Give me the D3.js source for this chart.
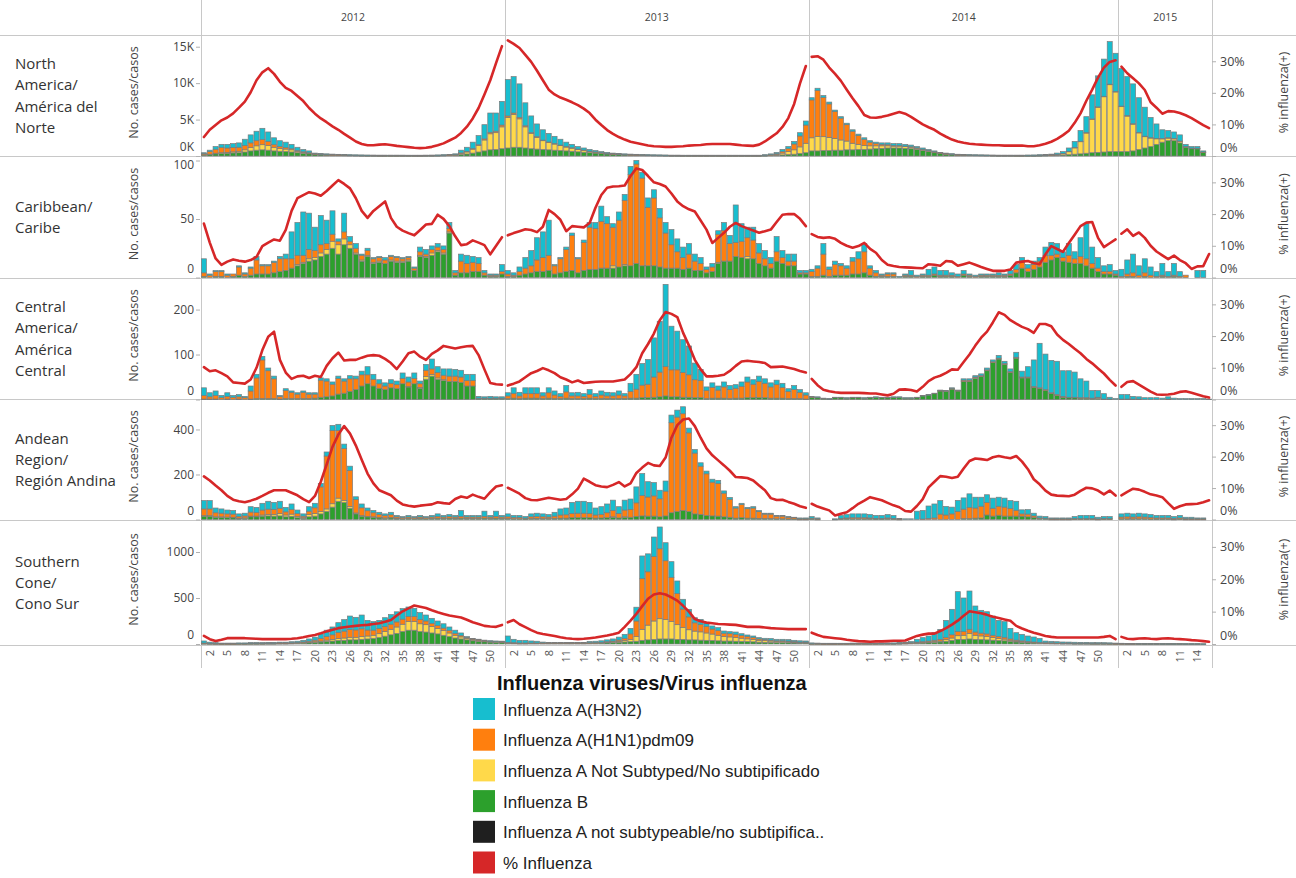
<!DOCTYPE html>
<html><head><meta charset="utf-8">
<script src="https://cdn.jsdelivr.net/npm/d3@7"></script>
<style>
body{margin:0;background:#fff}
svg{display:block}
</style>
</head><body>
<svg id="chart" width="1296" height="878"></svg>
<script>
// ---------------- DATA ----------------
const YEARS = [2012, 2013, 2014, 2015];
const WEEKS_PER_YEAR = [52, 52, 53, 16];
const X_TICK_WEEKS = [2,5,8,11,14,17,20,23,26,29,32,35,38,41,44,47,50];
const X_TICK_WEEKS_2015 = [2,5,8,11,14];

const REGION_LABELS = [
  ["North","America/","América del","Norte"],
  ["Caribbean/","Caribe"],
  ["Central","America/","América","Central"],
  ["Andean","Region/","Región Andina"],
  ["Southern","Cone/","Cono Sur"]
];

const SERIES_NAMES = ["Influenza A(H3N2)","Influenza A(H1N1)pdm09","Influenza A Not Subtyped/No subtipificado","Influenza B","Influenza A not subtypeable/no subtipifica..","% Influenza"];
const SERIES_COLORS = ["#17becf","#ff7f0e","#ffd94a","#2ca02c","#1f1f1f","#d62728"];
const LEGEND_TITLE = "Influenza viruses/Virus influenza";

const NA_TICKS = [0,5000,10000,15000];
const CAR_TICKS = [0,50,100];
const CA_TICKS = [0,100,200];
const AND_TICKS = [0,200,400];
const SC_TICKS = [0,500,1000];
const PCT_TICKS = [0,10,20,30];

// North America
const NA_B = [
150,200,300,350,380,420,450,550,700,800,850,800,700,650,600,550,450,350,300,200,170,150,130,110,100,90,80,70,60,60,50,50,50,50,50,50,50,50,60,60,70,80,100,130,200,280,400,550,700,850,900,1000,
1100,1200,1200,1100,1000,950,900,850,800,750,700,650,580,520,450,400,330,280,230,200,170,150,130,110,100,90,80,70,60,60,50,50,50,50,50,50,50,50,50,50,50,50,50,50,60,80,100,150,200,250,350,450,
700,700,750,750,800,800,850,850,900,900,950,1000,1050,1100,1100,1100,1050,1000,900,750,600,450,330,250,200,150,130,110,100,90,80,70,60,60,60,50,50,50,50,60,70,80,100,130,180,250,300,380,450,500,550,600,600,
600,600,700,900,1100,1300,1600,1900,2100,2100,1800,1200,1000,1000,500,0];
const NA_NS = [
30,50,80,100,120,150,200,300,450,600,700,650,500,400,350,300,200,150,100,60,50,40,30,30,20,20,20,20,20,20,20,20,20,20,20,20,20,20,20,20,20,30,40,60,200,300,550,900,1500,2200,2300,3000,
4200,4500,3900,2900,2100,1600,1200,1000,850,700,550,450,350,280,200,150,110,80,60,50,40,30,30,20,20,20,20,20,20,20,20,20,20,20,20,20,20,20,20,20,20,20,20,20,40,70,130,250,400,600,900,1300,
1800,2000,1900,1800,1600,1400,1200,900,700,550,450,400,350,300,250,250,250,220,180,150,120,100,70,50,40,30,30,20,20,20,20,20,20,20,20,20,20,30,30,40,50,70,120,220,450,900,1700,2800,4600,6200,7600,9200,8200,
6200,4900,3700,2300,1600,1200,800,500,400,300,250,100,80,60,40,0];
const NA_H1 = [
150,350,550,700,600,600,550,600,650,700,700,550,350,250,200,150,100,80,50,30,30,20,20,20,20,10,10,10,10,10,10,10,10,10,10,10,10,10,10,10,10,10,10,10,30,40,60,100,150,200,200,250,
200,200,200,150,100,100,80,70,60,50,40,30,20,20,20,10,10,10,10,10,10,10,10,10,10,10,10,10,10,10,10,10,10,10,10,10,10,10,10,10,10,10,10,10,20,40,80,200,400,800,1500,2500,
5200,6300,5400,4600,3700,3000,2250,1650,1200,850,500,300,200,150,100,80,60,50,40,30,30,20,20,20,10,10,10,10,10,10,10,10,10,10,10,10,10,10,10,10,10,10,10,10,20,20,30,30,40,50,50,60,60,
50,40,30,30,20,20,20,10,10,10,10,10,10,10,10,0];
const NA_H3 = [
120,200,370,450,500,530,600,850,1100,1300,1550,1300,950,800,750,600,450,320,250,110,100,90,80,70,60,60,50,50,50,40,40,40,40,40,40,30,30,30,30,40,50,60,70,100,370,580,890,1250,1950,2650,2500,3250,
5000,5000,4600,3150,2300,1750,1420,1180,990,800,610,470,350,280,230,190,150,130,100,90,80,70,60,50,50,40,40,40,30,30,30,30,30,30,30,30,30,30,30,30,30,30,30,30,60,100,180,300,300,350,450,550,
300,300,250,250,200,200,200,200,200,200,200,200,200,250,250,270,240,230,180,170,150,130,80,80,70,50,40,40,30,30,30,30,30,30,30,40,40,50,60,70,80,100,170,240,450,830,1470,2190,3310,4250,5100,5840,5240,
5150,5360,5470,4770,3980,2780,1980,1190,990,890,840,290,210,230,150,0];
const NA_PCT = [
6.0,8.3,9.8,11.3,12.2,13.5,15.3,17.2,20.2,24,26.5,27.8,26,23.5,21.6,20.6,19,17.4,15.2,13.4,11.9,10.7,9.4,8.3,7,5.8,4.6,3.8,3.4,3.4,3.6,3.7,3.5,3.2,3.0,2.8,2.6,2.5,2.6,2.9,3.4,4.0,4.9,5.8,7.3,9.3,11.9,15.2,19.5,24,29.5,34.8,
36.6,35.5,34.2,32,29.8,27,24,21,19.5,18.5,17.8,17,16.1,15,13.6,11.5,9.8,8.2,7,6,5.2,4.5,4.1,3.7,3.3,3.1,3.0,2.9,2.9,3.0,3.1,3.3,3.4,3.5,3.7,3.8,3.8,3.8,3.8,3.6,3.4,3.3,3.2,3.6,4.6,5.9,7.2,9.2,12,16.5,23,28.5,
31.4,31.6,30.5,28,26,23.8,21,18.3,15.8,13,12.2,12.1,12.4,12.8,13.4,13.9,13.4,12.4,11.2,10,9.1,8.3,7.1,6.1,5.2,4.6,4.2,3.9,3.7,3.6,3.5,3.4,3.4,3.3,3.3,3.3,3.3,3.1,3.1,3.4,3.9,4.5,5.4,6.6,8,10.5,13.5,17.5,21,24.8,28,29.8,30.3,
28.3,26.2,24.6,23,20.9,17,15.3,13.4,14.2,14.1,13.6,12.9,12,10.9,9.8,8.8];

// Caribbean
const CAR_B = [
1,0,1,1,0,1,2,1,2,3,3,3,4,5,6,8,10,12,14,15,18,20,25,20,28,25,20,14,18,12,13,12,14,13,13,14,6,18,17,19,22,20,38,2,4,4,5,5,2,1,1,3,
1,1,2,3,4,5,5,6,3,4,5,6,4,6,7,7,8,8,8,9,10,10,12,10,10,10,9,8,8,8,7,8,6,6,4,5,12,14,14,18,17,16,16,12,10,8,14,12,10,10,3,3,
1,1,2,1,2,2,2,3,3,4,2,1,1,1,1,0,1,1,0,1,1,2,1,1,1,0,2,1,0,1,1,1,1,1,2,4,8,5,7,9,13,15,17,14,13,12,12,10,8,5,3,3,2,
0,1,1,0,1,0,0,1,0,1,0,0,0,0,0,0];
const CAR_NS = [
0,0,0,0,0,0,0,0,0,0,0,0,0,0,0,0,1,1,2,2,3,4,6,8,5,3,1,1,1,1,1,0,1,1,1,1,0,1,1,2,1,1,1,0,0,0,0,0,0,0,0,0,
0,0,0,0,0,0,0,0,0,0,0,0,0,0,0,0,0,0,2,0,1,0,0,0,0,0,0,0,0,0,0,0,0,0,0,0,1,0,0,0,0,2,0,0,0,0,0,0,0,0,0,0,
0,0,0,0,0,0,0,0,0,0,0,0,0,0,0,0,0,0,0,0,0,0,0,0,0,0,0,0,0,0,0,0,0,0,0,0,0,0,0,0,0,0,0,0,0,0,0,0,0,0,0,0,0,
0,0,0,0,0,0,0,0,0,0,0,0,0,0,0,0];
const CAR_H1 = [
3,2,4,4,2,2,7,2,6,12,7,7,9,11,10,8,8,6,8,6,7,5,6,3,6,3,4,4,4,3,3,3,3,3,2,2,2,3,2,3,3,3,3,2,10,8,8,7,2,1,1,2,
2,1,3,5,6,10,12,13,7,12,19,30,12,24,36,35,40,38,33,40,55,78,85,75,50,58,42,30,20,14,10,12,8,6,3,4,24,26,15,12,14,16,16,9,6,4,8,5,4,4,1,1,
4,7,18,6,9,8,6,11,13,18,6,3,1,2,2,0,1,1,1,1,1,1,1,1,1,1,1,1,1,1,1,1,1,1,1,3,5,3,4,5,6,4,3,3,6,4,6,6,4,3,2,2,1,
1,2,3,2,3,2,1,1,1,1,1,2,0,0,0,0];
const CAR_H3 = [
12,1,1,1,1,0,1,1,1,3,1,1,1,2,4,23,28,37,31,20,25,20,20,2,16,4,4,1,2,1,1,2,1,1,1,1,1,4,4,3,3,3,5,2,6,7,5,5,2,1,1,6,
3,2,4,9,13,19,22,30,1,1,2,2,1,2,4,5,13,6,3,7,5,7,3,5,8,7,8,9,13,11,9,9,6,5,2,3,3,7,7,32,15,9,11,8,7,5,13,6,6,6,2,2,
2,2,9,2,3,2,2,3,6,7,2,2,1,1,1,1,1,4,1,1,5,6,4,4,2,2,3,1,1,1,1,1,2,1,3,4,4,3,3,3,7,11,9,5,10,6,16,30,14,9,5,6,3,
6,12,16,8,12,7,4,10,4,10,4,0,0,6,6,0];
const CAR_PCT = [
17,11,6,4,5,5.7,5.3,5,5.5,6.5,9.9,11,12,11.6,15,21,25,26,26.9,26.5,25.8,27.3,29,30.7,29.5,28.1,25,21,18.8,21,22.5,24,18.8,16,14.8,14,13.3,15,16.7,16.9,19.8,18.5,16.2,13,10.2,10.5,11.7,11,10.2,7.3,10,12.7,
13.3,14,14.6,15.2,15,14.3,16,21.3,20,18.2,14.6,16.2,16,15.8,17.2,22,26,28.3,28.7,28.8,29,32,34.4,33.9,32,30,29.5,28.7,26.5,24,22.5,21.5,20.8,18,15.1,10.9,12.5,14.1,16,17.2,16.2,15.5,14.8,14.1,14.6,15.1,17.5,19.8,20,20,18.5,16.2,
13.7,12.8,12.5,12.7,12.2,10.9,10,9.4,9.9,10.9,9,7.8,5.5,4,3.6,3.3,3.2,3.1,3,2.9,4.2,4,3.7,5.2,5,3.7,4.2,4.7,4,3.3,2.7,2.1,2.1,2.1,2.5,4.7,5,5.2,4.6,4.2,7.3,9.9,9,8.1,10.9,13.5,16.2,17.3,17.5,12.5,9.6,10.8,12,
13.8,15.2,13.1,14.2,12.5,10,8.2,7,5.8,6.9,5.5,4.5,2.7,3.5,3.6,7.4];

// Central America
const CA_B = [
1,1,1,0,1,0,1,0,1,2,2,2,2,1,2,2,2,2,2,3,5,6,8,12,14,18,22,30,35,30,25,22,26,24,35,28,35,25,45,52,45,42,40,40,38,30,30,2,2,2,2,2,
2,3,2,3,3,3,2,3,2,2,3,2,2,2,3,2,2,2,2,2,2,3,3,4,4,5,6,8,6,6,5,5,4,4,2,3,3,3,2,3,3,4,4,4,4,3,3,3,2,2,2,1,
5,4,2,1,4,4,3,4,4,3,4,5,4,4,5,5,3,3,4,8,10,13,19,18,23,19,40,40,47,51,64,82,90,78,60,92,48,48,27,24,20,13,9,5,4,4,3,3,2,2,1,1,0,
1,1,1,1,0,0,0,0,1,0,0,0,0,0,0,0];
const CA_NS = [
0,0,0,0,0,0,0,0,0,0,0,0,0,0,0,0,0,0,0,0,0,0,0,0,0,0,0,0,0,0,0,0,0,0,0,1,0,2,6,4,3,2,0,0,0,0,0,0,0,0,0,0,
0,0,0,0,0,0,0,0,0,0,0,0,0,0,0,0,0,0,0,0,0,0,0,0,0,0,0,0,0,0,0,0,0,0,0,0,0,0,0,0,0,0,0,0,0,0,0,0,0,0,0,0,
0,0,0,0,0,0,0,0,0,0,0,0,0,0,0,0,0,0,0,0,0,0,0,0,0,0,0,0,1,0,0,0,0,0,0,0,0,0,0,0,0,0,0,0,0,0,0,0,0,2,0,0,0,
0,0,0,0,0,0,0,0,0,0,0,0,0,0,0,0];
const CA_H1 = [
8,5,8,4,6,5,5,4,18,46,86,62,44,6,18,14,10,14,10,9,38,35,26,35,27,28,24,25,20,15,10,8,10,9,12,10,12,8,14,12,12,10,12,12,12,12,12,1,1,1,1,1,
6,10,6,10,10,10,6,12,8,5,14,6,6,5,8,5,8,6,6,8,6,15,20,28,30,45,55,65,60,60,55,50,40,38,18,24,18,25,20,22,26,35,30,36,32,25,30,24,16,20,14,9,
1,1,0,0,0,0,0,0,0,0,0,0,0,0,0,0,0,0,0,0,0,0,1,1,2,1,3,3,2,2,2,2,2,2,2,2,2,2,2,2,2,2,2,2,1,1,1,1,1,1,0,0,0,
0,0,0,0,0,0,0,0,0,0,0,0,0,0,0,0];
const CA_H3 = [
17,9,10,5,8,4,5,3,11,8,8,6,6,2,4,3,3,3,3,3,5,5,5,5,5,7,6,8,18,11,9,7,8,8,12,11,12,6,13,22,13,14,16,15,15,14,14,4,3,4,3,3,
7,13,8,13,13,13,7,11,9,6,14,7,8,6,11,6,9,8,7,9,5,18,33,48,55,87,113,183,97,86,73,64,37,25,8,10,9,11,9,8,10,11,10,12,10,9,10,9,6,9,6,5,
1,1,1,1,1,1,1,1,1,1,1,1,1,1,1,1,1,1,1,1,1,1,1,1,1,1,3,3,3,4,4,4,6,5,6,11,13,23,59,99,79,72,74,57,59,56,42,37,17,15,12,4,2,
10,10,6,5,4,4,4,3,5,3,2,2,2,2,2,1];
const CA_PCT = [
10.2,8.9,9.2,8.3,7.3,5.4,5.2,5,6.3,10,15.6,19.8,21.4,12.5,8.5,6.5,7.3,7.5,6.8,7.5,7.1,10.6,13,14.8,12.3,12.5,12.5,13.2,13.8,14,13.8,12.8,11.5,9.6,12,14.6,15.1,13.5,12.5,14.4,15.5,16.9,16.5,16.1,16.5,16.8,16.9,14,9.5,5.2,4.8,4.7,
4.4,5,5.7,7,8.3,9,9.9,9.2,8.3,7,6.3,5.4,6,5.2,5.4,5.6,5.7,5.7,5.7,6,6.3,8,10.2,14.6,17.5,20.8,25,27.6,27,26,21,17,12.5,9.5,7.3,7.3,7.5,7.8,9,10.6,12,12.2,12,11.8,11.5,10.2,10.3,10.4,10,9.6,9,8.5,
6.5,4.5,3.1,2.6,2.3,2.1,2.1,2.1,2.1,2,1.9,1.9,1.6,1.3,1.8,3.1,3.2,3.0,2.5,4,5.8,6.9,7.5,8.4,9.5,9.4,11.8,14.2,17,19.5,21.4,24.3,27.5,26.7,25,23.9,22.9,22.2,21,23.8,23.8,23.1,20.5,18.8,17.5,16,14.6,12.8,11.4,9.8,8.2,6.2,4.4,
4,5.5,5.8,4.7,3.6,2.5,1.6,1.5,1.6,1.8,2.4,2.6,2.1,1.6,1,0.6];

// Andean Region
const AND_B = [
15,15,10,10,9,8,5,6,12,12,15,16,15,16,12,14,8,5,12,15,25,35,55,80,75,50,25,15,12,10,8,6,8,5,3,5,3,5,3,5,6,5,6,5,6,5,5,5,6,5,6,5,
4,3,3,2,4,5,4,4,5,6,6,8,8,8,8,6,7,8,10,7,10,10,14,16,15,15,12,16,30,35,40,35,25,22,18,16,15,12,10,6,8,6,6,5,4,4,3,3,2,2,1,1,
2,1,0,0,1,2,3,3,3,3,3,2,2,3,2,1,0,0,0,0,0,0,0,0,0,0,4,4,6,7,20,15,19,15,15,15,15,12,8,4,3,1,1,1,1,2,2,2,2,1,2,2,0,
3,3,3,3,3,2,2,2,2,1,2,1,1,1,1,0];
const AND_NS = [
2,2,2,2,2,2,1,1,3,3,5,6,8,10,8,10,6,3,10,12,10,12,15,15,10,8,4,2,2,2,1,1,1,1,0,0,0,0,0,0,0,0,0,0,0,0,0,0,0,0,0,0,
0,0,0,0,0,0,0,0,0,0,0,0,0,0,0,0,0,0,2,0,2,0,0,0,0,0,0,0,0,0,0,0,0,0,0,0,0,0,0,0,0,0,0,0,0,0,0,0,0,0,0,0,
0,0,0,0,0,0,0,0,0,0,0,0,0,0,0,0,0,0,0,0,0,0,0,0,0,0,0,0,0,0,0,0,0,0,0,0,0,0,0,0,0,0,0,0,0,0,0,0,0,0,0,0,0,
0,0,0,0,0,0,0,0,0,0,0,0,0,0,0,0];
const AND_H1 = [
30,30,18,16,14,14,8,9,18,16,22,24,22,24,14,20,12,7,15,25,110,235,325,300,230,160,60,35,25,18,14,10,12,6,5,6,5,6,5,6,8,6,7,6,8,6,6,6,8,6,8,6,
8,6,6,4,8,8,8,7,10,14,15,18,20,20,18,14,16,22,28,20,30,35,60,90,85,90,80,110,400,420,430,350,270,215,185,150,145,105,80,45,58,42,45,30,20,20,12,12,8,6,4,4,
4,2,0,0,0,3,4,5,5,5,4,3,3,4,3,1,0,0,0,2,5,7,24,20,25,35,42,50,45,52,55,35,40,40,34,26,10,12,8,3,3,2,2,2,2,2,2,2,2,2,2,2,0,
8,9,8,9,8,7,5,5,5,4,5,3,3,2,2,0];
const AND_H3 = [
37,37,21,19,17,16,11,12,24,23,30,35,31,31,20,25,16,10,20,20,15,18,23,28,20,19,12,17,12,10,9,8,11,6,5,7,5,7,5,7,11,7,9,7,26,7,7,7,23,7,23,7,
13,9,9,7,13,15,13,11,17,27,30,50,53,53,50,31,34,39,46,30,44,46,71,98,68,59,38,45,34,31,31,21,16,15,12,13,14,10,8,6,6,6,6,5,4,4,3,3,3,2,2,2,
7,4,0,0,2,13,15,17,17,17,15,13,13,15,13,3,3,3,37,38,55,62,60,38,30,50,50,60,48,40,35,45,40,40,35,40,18,20,12,8,7,4,4,4,4,9,14,14,14,7,9,9,0,
14,16,14,16,14,13,11,11,11,8,11,6,6,4,4,0];
const AND_PCT = [
13.7,12.4,10.8,9.3,7.5,6.3,5.8,5.5,6,6.6,7.5,8.5,9.3,9.3,9.3,8.5,7.7,6.5,5.5,7.5,12,17.5,23.1,27,29.7,27.3,23.5,19,14.6,11.5,9.3,8.5,7.7,6,4.8,4.4,4.1,4.4,4.6,4.8,5.5,5.2,5,6.5,7.3,6.9,7.9,7.2,6.6,8.7,10.5,10.9,
10.1,9.2,8.2,6.8,6.2,6.1,6.5,6.9,6.6,6.3,6.5,8,9.8,13,12,10.9,10.5,10.3,11,11.9,10.5,11.5,14.8,16.5,18,17.2,17,19.7,26,30,31.8,32.1,29.7,26,22.6,20.4,18.8,17.2,15.5,13.5,13.4,13.2,12.4,10.8,9.3,6.8,6.2,6.3,5.6,5,4.2,3.7,
5,4.1,3.5,2.9,1.3,1.8,2.3,3.6,5,6,7.1,6.6,6.1,5.3,4.5,3.9,2.7,2.5,4.3,6.5,10.2,12,13.8,13.6,13.2,13.6,16.2,18.6,19.4,19.2,18.9,19.8,20.2,19.8,19.5,20.2,18.4,16,12.8,11.2,9.2,7.9,7.6,7.5,7.4,7.9,9.1,10.1,9.9,9.2,8,9.2,7.6,
7.7,8.8,9.8,9.5,8.8,8,7.6,7.1,5.2,3.4,4.2,4.8,4.9,5,5.5,6.1];

// Southern Cone
const SC_B = [
5,4,3,2,2,2,3,3,4,4,4,5,5,6,6,8,9,12,15,18,22,28,32,38,40,45,45,50,55,60,70,85,100,115,135,150,150,135,130,120,110,95,80,65,55,45,35,30,25,22,20,18,
10,8,6,6,8,8,8,8,8,8,8,8,8,8,10,10,12,14,16,18,22,25,30,40,45,50,55,55,55,50,50,45,45,42,40,38,35,32,32,30,28,26,24,20,18,17,15,15,14,12,10,10,
3,3,2,2,2,2,2,3,3,3,3,3,4,4,4,5,6,8,10,12,15,18,22,30,40,50,50,55,50,48,45,42,38,35,28,22,18,15,13,10,8,8,7,6,6,5,5,5,4,4,4,3,3,
3,2,2,2,2,2,2,2,2,2,2,1,1,1,1,0];
const SC_NS = [
1,1,1,1,1,1,1,1,1,1,1,1,1,1,1,1,2,3,4,6,10,14,18,22,25,28,28,30,32,35,42,50,60,70,80,95,95,85,80,70,60,50,40,30,22,15,10,8,5,4,3,3,
2,2,2,2,1,1,1,1,1,1,1,1,1,1,2,2,3,5,6,10,15,25,50,120,160,200,220,210,190,160,130,110,95,90,80,70,60,50,45,40,35,30,25,20,18,15,12,12,10,8,6,6,
1,1,1,1,1,1,1,1,1,1,1,1,1,1,1,1,2,2,3,4,5,8,10,18,25,40,45,60,45,40,35,28,22,18,12,8,6,4,3,2,2,1,1,1,1,1,1,1,1,1,1,1,1,
0,0,0,0,0,0,0,0,0,0,0,0,0,0,0,0];
const SC_H1 = [
5,3,2,2,2,2,2,2,3,3,3,3,3,4,4,5,6,8,12,18,28,40,50,65,75,85,80,85,65,55,55,55,55,55,55,55,55,45,40,35,30,28,25,20,15,12,10,8,6,5,5,5,
5,4,3,3,2,2,2,2,2,2,2,2,2,2,2,3,4,6,10,15,25,60,170,550,580,700,760,640,480,340,200,140,90,80,70,55,50,35,35,35,30,25,22,15,12,10,8,8,8,6,5,5,
2,2,1,1,1,1,1,2,2,2,2,2,2,2,2,3,4,5,8,10,12,15,18,25,35,45,40,45,35,30,30,25,22,20,15,12,10,8,6,5,4,4,3,3,3,2,2,2,2,2,2,2,1,
1,1,1,1,1,1,1,1,1,1,1,1,1,1,0,0];
const SC_H3 = [
22,12,9,5,5,5,6,6,7,7,7,9,9,9,9,11,13,17,24,33,50,68,85,107,125,146,137,150,105,93,90,96,105,110,115,102,88,76,65,54,50,47,40,35,28,8,6,6,6,5,5,5,
70,37,29,29,22,19,10,6,6,6,6,6,6,6,14,15,16,20,23,32,43,60,150,247,195,213,237,196,170,135,106,82,56,56,42,33,33,24,22,25,19,17,16,14,14,18,16,16,16,14,14,12,
6,4,4,4,4,4,4,4,4,4,4,4,5,5,5,7,8,12,30,43,55,82,109,184,277,434,365,416,283,248,241,209,175,170,115,81,71,60,54,43,18,16,14,12,11,11,10,10,9,9,8,7,5,
4,3,3,2,2,2,2,1,1,1,1,1,1,1,1,0];
const SC_PCT = [
2.5,1.5,0.9,1.3,1.8,1.8,1.8,1.8,1.7,1.6,1.5,1.5,1.5,1.5,1.5,1.6,1.8,2.1,2.5,2.8,3.3,3.9,4.4,4.9,5.2,5.4,5.6,5.8,5.9,6.2,6.4,6.9,7.4,8.8,10.1,11,11.9,11.5,11.1,10.4,9.8,9.3,8.8,8.5,8.2,7.5,6.7,6.2,5.6,5.4,5.3,5.9,
6.7,7.4,6.1,5.2,4.3,3.5,3.1,2.8,2.5,2.1,1.8,1.6,1.5,1.6,1.8,2,2.3,2.6,3,3.5,5.3,7.2,9.3,11.7,14,15.3,15.7,15.3,14.4,13.4,11.8,10,7.7,7,6.6,6.4,6.2,6.1,6,5.9,5.6,5.3,5.3,5.3,5.1,4.9,4.8,4.7,4.6,4.6,4.6,4.6,
3.5,2.8,2.2,2,1.8,1.6,1.3,1.1,0.9,0.8,0.7,0.8,0.8,0.9,1,1,1.1,1.8,2.5,2.9,3.2,3.2,4,4.9,6,7.2,8.7,10.1,9.8,9.5,9,8.4,8,7.6,7.2,5.6,4.8,4.1,3.5,3,2.5,2.2,2,2,2,2,2,2,2,2,2.2,2.5,1.5,
2.2,1.6,1.5,1.7,1.8,1.6,1.5,1.7,1.8,1.6,1.5,1.4,1.2,1.1,0.9,0.7];

// ---------------- LAYOUT ----------------
const W = 1296, H = 878;
const PLOT_L = 201, PLOT_R = 1212;
const ROW_LINES = [35, 156, 278, 399, 520, 645];
const ROW_TOP = [36, 157, 279, 400, 521];
const ROW_BASE = [156, 277.5, 399.5, 519.5, 644];
const LEFT_MAX = [16470, 103, 268, 531, 1337];
const PCT_MAX = 38;
const FONT = "'Open Sans', 'DejaVu Sans', sans-serif";
const LFONT = "'Liberation Sans', Arial, sans-serif";
const GRID = "#c8c8c8";

const REGIONS = [
  {label: REGION_LABELS[0], b: NA_B, ns: NA_NS, h1: NA_H1, h3: NA_H3, pct: NA_PCT, ticks: NA_TICKS, fmt: d => (d/1000) + "K"},
  {label: REGION_LABELS[1], b: CAR_B, ns: CAR_NS, h1: CAR_H1, h3: CAR_H3, pct: CAR_PCT, ticks: CAR_TICKS, fmt: d => String(d)},
  {label: REGION_LABELS[2], b: CA_B, ns: CA_NS, h1: CA_H1, h3: CA_H3, pct: CA_PCT, ticks: CA_TICKS, fmt: d => String(d)},
  {label: REGION_LABELS[3], b: AND_B, ns: AND_NS, h1: AND_H1, h3: AND_H3, pct: AND_PCT, ticks: AND_TICKS, fmt: d => String(d)},
  {label: REGION_LABELS[4], b: SC_B, ns: SC_NS, h1: SC_H1, h3: SC_H3, pct: SC_PCT, ticks: SC_TICKS, fmt: d => String(d)}
];

const weeks = [];
YEARS.forEach((yr, yi) => {
  for (let w = 1; w <= WEEKS_PER_YEAR[yi]; w++) weeks.push({year: yr, yi, week: w, idx: weeks.length});
});
const N = weeks.length;
REGIONS.forEach((r, i) => ["b","ns","h1","h3","pct"].forEach(k => {
  if (r[k].length !== N) throw new Error("Region " + i + " " + k + " length " + r[k].length + " != " + N);
}));

const svg = d3.select("#chart");
svg.append("rect").attr("width", W).attr("height", H).attr("fill", "#fff");

const x = d3.scaleBand().domain(weeks.map(d => d.idx)).range([PLOT_L, PLOT_R]).paddingInner(0.14).paddingOuter(0.07);
const step = x.step();
const yearStart = [];
{ let c = 0; WEEKS_PER_YEAR.forEach(n => { yearStart.push(c); c += n; }); yearStart.push(c); }
const boundaryX = yearStart.map(c => PLOT_L + c * step);

// grid lines
const grid = svg.append("g");
ROW_LINES.forEach(yv => grid.append("line").attr("x1", 0).attr("x2", W).attr("y1", yv + 0.5).attr("y2", yv + 0.5).attr("stroke", GRID).attr("stroke-width", 1));
boundaryX.forEach(bx => grid.append("line").attr("x1", Math.round(bx) + 0.5).attr("x2", Math.round(bx) + 0.5).attr("y1", 0).attr("y2", 668).attr("stroke", GRID).attr("stroke-width", 1));

// year headers
YEARS.forEach((yr, yi) => {
  svg.append("text").attr("x", (boundaryX[yi] + boundaryX[yi+1]) / 2).attr("y", 21)
    .attr("text-anchor", "middle").attr("font-family", FONT).attr("font-size", 10.5).attr("fill", "#444").text(yr);
});

const KEYS = ["b","ns","h1","h3"];
const KEY_COLOR = {b: SERIES_COLORS[3], ns: SERIES_COLORS[2], h1: SERIES_COLORS[1], h3: SERIES_COLORS[0]};

REGIONS.forEach((r, ri) => {
  const top = ROW_TOP[ri], base = ROW_BASE[ri];
  const y = d3.scaleLinear().domain([0, LEFT_MAX[ri]]).range([base, top]);
  const yp = d3.scaleLinear().domain([0, PCT_MAX]).range([base, top]);
  const rows = weeks.map((wk, i) => ({idx: i, b: r.b[i], ns: r.ns[i], h1: r.h1[i], h3: r.h3[i]}));
  const layers = d3.stack().keys(KEYS)(rows);
  const g = svg.append("g");
  layers.forEach(layer => {
    g.append("g").selectAll("rect")
      .data(layer.filter(d => d[1] > d[0]))
      .join("rect")
      .attr("x", d => x(d.data.idx))
      .attr("width", x.bandwidth())
      .attr("y", d => y(d[1]))
      .attr("height", d => Math.max(0.6, y(d[0]) - y(d[1])))
      .attr("fill", KEY_COLOR[layer.key])
      .attr("stroke", "#7b7b7b")
      .attr("stroke-width", 0.7);
  });
  // % line per year
  const line = d3.line().x(i => x(i) + x.bandwidth()/2).y(i => yp(r.pct[i])).curve(d3.curveLinear);
  YEARS.forEach((yr, yi) => {
    const idxs = d3.range(yearStart[yi], yearStart[yi+1]);
    g.append("path").attr("d", line(idxs)).attr("fill", "none").attr("stroke", SERIES_COLORS[5])
      .attr("stroke-width", 2.6).attr("stroke-linejoin", "round").attr("stroke-linecap", "round");
  });

  // left axis
  const clampY = v => Math.max(top + 8, Math.min(base - 9, v));
  const la = svg.append("g").attr("transform", `translate(${PLOT_L - 1},0)`)
    .call(d3.axisLeft(y).tickValues(r.ticks).tickFormat(r.fmt).tickSize(4).tickPadding(2));
  la.select(".domain").remove();
  la.selectAll(".tick line").attr("stroke", "#b0b0b0");
  la.selectAll(".tick text").attr("font-family", FONT).attr("font-size", 12).attr("fill", "#444")
    .attr("y", d => clampY(y(d)) - y(d));
  // right axis
  const ra = svg.append("g").attr("transform", `translate(${PLOT_R},0)`)
    .call(d3.axisRight(yp).tickValues(PCT_TICKS).tickFormat(d => d + "%").tickSize(4).tickPadding(4));
  ra.select(".domain").remove();
  ra.selectAll(".tick line").attr("stroke", "#b0b0b0");
  ra.selectAll(".tick text").attr("font-family", FONT).attr("font-size", 12.5).attr("fill", "#444")
    .attr("y", d => clampY(yp(d)) - yp(d));

  // row label
  const mid = (ROW_LINES[ri] + ROW_LINES[ri+1]) / 2;
  const lh = 21.3;
  const first = mid - (r.label.length - 1) * lh / 2 + 5.5;
  r.label.forEach((t, li) => {
    svg.append("text").attr("x", 15).attr("y", first + li * lh).attr("font-family", FONT)
      .attr("font-size", 15).attr("fill", "#333").text(t);
  });
  // axis titles
  svg.append("text").attr("transform", `translate(137.5,${mid - 3}) rotate(-90)`).attr("text-anchor", "middle")
    .attr("font-family", FONT).attr("font-size", 12.5).attr("fill", "#444").text("No. cases/casos");
  svg.append("text").attr("transform", `translate(1287.5,${mid - 3}) rotate(-90)`).attr("text-anchor", "middle")
    .attr("font-family", FONT).attr("font-size", 12.5).attr("fill", "#444").text("% influenza(+)");
});

// x tick labels
const xt = svg.append("g");
YEARS.forEach((yr, yi) => {
  const tw = yi === 3 ? X_TICK_WEEKS_2015 : X_TICK_WEEKS;
  tw.forEach(w => {
    const idx = yearStart[yi] + w - 1;
    const cx = x(idx) + x.bandwidth() / 2;
    xt.append("text").attr("transform", `translate(${cx + 4},650) rotate(-90)`).attr("text-anchor", "end")
      .attr("font-family", FONT).attr("font-size", 11).attr("fill", "#555").text(w);
  });
});

// legend
const lg = svg.append("g");
lg.append("text").attr("x", 497).attr("y", 690).attr("font-family", LFONT).attr("font-weight", "bold")
  .attr("font-size", 20).attr("fill", "#111").text(LEGEND_TITLE);
SERIES_NAMES.forEach((nm, i) => {
  const yy = 698 + i * 30.7;
  lg.append("rect").attr("x", 473).attr("y", yy).attr("width", 22).attr("height", 22).attr("fill", SERIES_COLORS[i]);
  lg.append("text").attr("x", 503).attr("y", yy + 17.5).attr("font-family", LFONT).attr("font-size", 17)
    .attr("fill", "#222").text(nm);
});
</script>
</body></html>
